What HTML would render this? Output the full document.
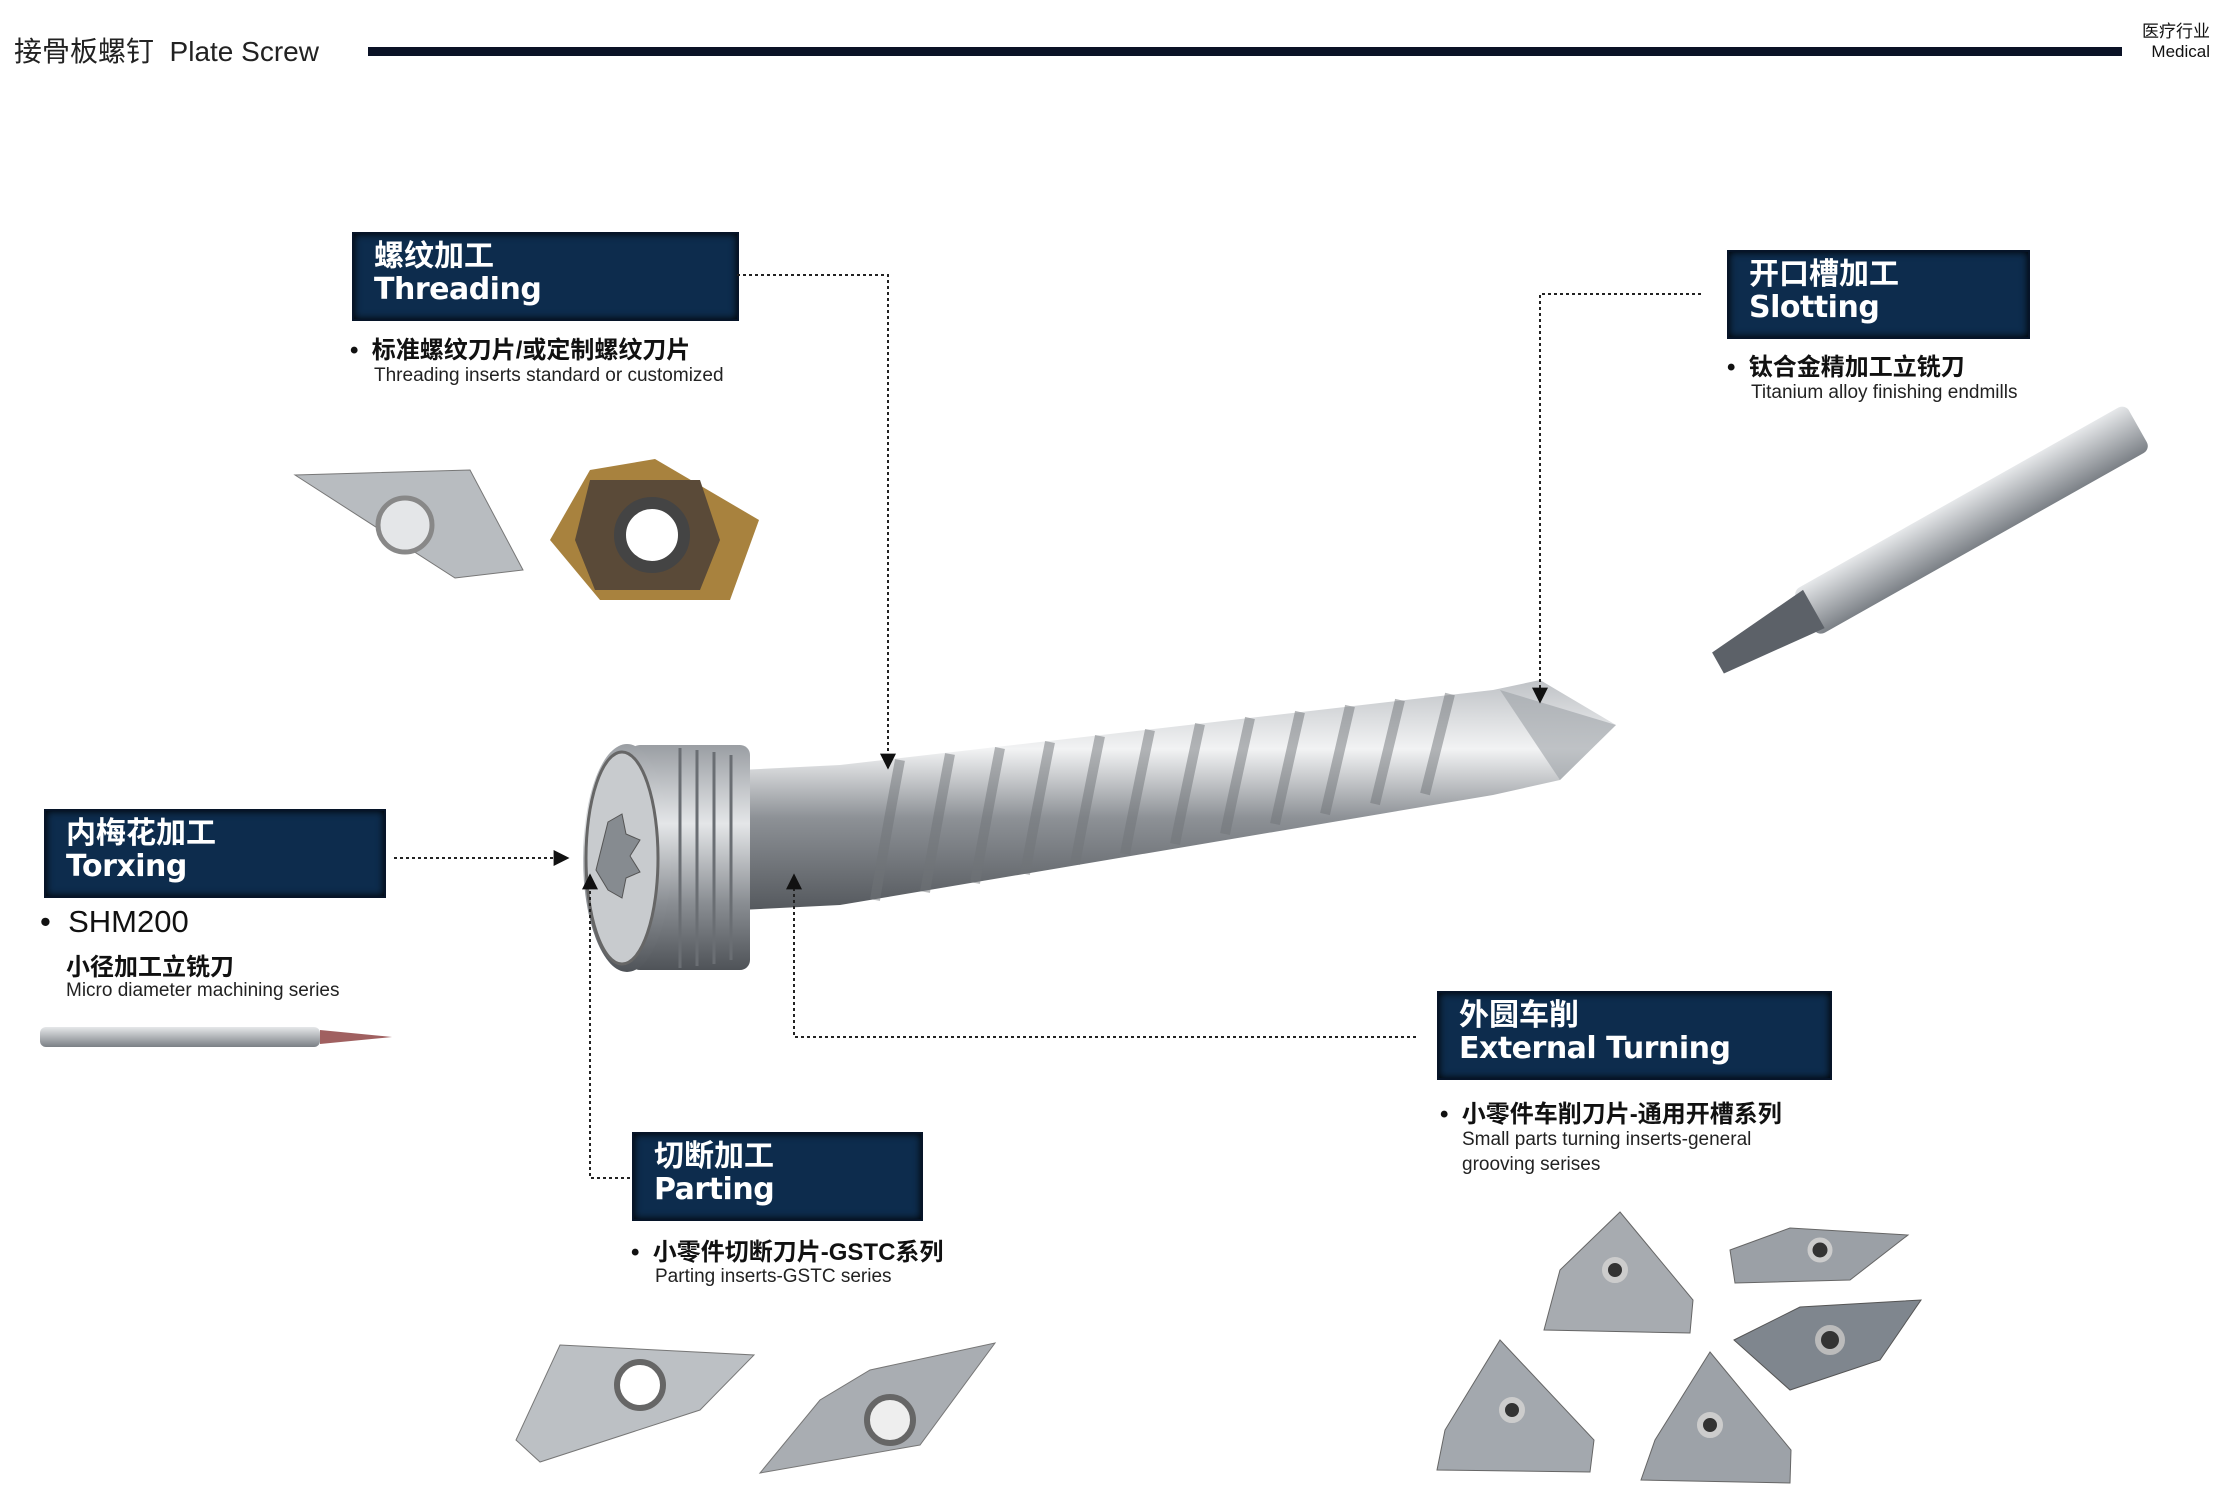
<!DOCTYPE html>
<html><head><meta charset="utf-8">
<style>
body{margin:0;width:2225px;height:1501px;background:#fff;position:relative;overflow:hidden;font-family:"Liberation Sans","Noto Sans CJK SC",sans-serif;color:#111}
.a{position:absolute;white-space:nowrap}
.box{position:absolute;background:#0d2c4d;box-shadow:inset 0 0 8px #000;border:2px solid #061428;color:#fff;font-weight:bold}
.box .c{position:absolute;left:20px;top:6px;font-size:30px;line-height:34px}
.box .e{position:absolute;left:20px;top:38px;font-size:30px;line-height:36px;font-family:"DejaVu Sans","Noto Sans CJK SC",sans-serif;font-weight:bold;letter-spacing:-0.5px}
.cn{font-size:24px;font-weight:bold}
.en{font-size:19px;color:#222}
</style></head><body>
<div class="a" style="left:14px;top:30px;font-size:28px;color:#222">接骨板螺钉&nbsp; Plate Screw</div>
<div class="a" style="left:368px;top:47px;width:1754px;height:9px;background:#0a1226"></div>
<div class="a" style="left:2142px;top:22px;font-size:17px;line-height:20px;text-align:right;width:68px">医疗行业<br>Medical</div>

<div class="box" style="left:352px;top:232px;width:383px;height:85px"><div class="c">螺纹加工</div><div class="e">Threading</div></div>
<div class="box" style="left:1727px;top:250px;width:299px;height:85px"><div class="c">开口槽加工</div><div class="e">Slotting</div></div>
<div class="box" style="left:44px;top:809px;width:338px;height:85px"><div class="c">内梅花加工</div><div class="e">Torxing</div></div>
<div class="box" style="left:1437px;top:991px;width:391px;height:85px"><div class="c">外圆车削</div><div class="e">External Turning</div></div>
<div class="box" style="left:632px;top:1132px;width:287px;height:85px"><div class="c">切断加工</div><div class="e">Parting</div></div>

<div class="a cn" style="left:350px;top:330px">•&nbsp; 标准螺纹刀片/或定制螺纹刀片</div>
<div class="a en" style="left:374px;top:365px">Threading inserts standard or customized</div>
<div class="a cn" style="left:1727px;top:347px">•&nbsp; 钛合金精加工立铣刀</div>
<div class="a en" style="left:1751px;top:382px">Titanium alloy finishing endmills</div>
<div class="a" style="left:40px;top:904px;font-size:31px">•&nbsp; SHM200</div>
<div class="a cn" style="left:66px;top:947px">小径加工立铣刀</div>
<div class="a en" style="left:66px;top:980px">Micro diameter machining series</div>
<div class="a cn" style="left:631px;top:1232px">•&nbsp; 小零件切断刀片-GSTC系列</div>
<div class="a en" style="left:655px;top:1266px">Parting inserts-GSTC series</div>
<div class="a cn" style="left:1440px;top:1094px">•&nbsp; 小零件车削刀片-通用开槽系列</div>
<div class="a en" style="left:1462px;top:1127px;line-height:25px">Small parts turning inserts-general<br>grooving serises</div>

<svg class="a" style="left:0;top:0" width="2225" height="1501">
<defs>
<linearGradient id="sg" x1="0" y1="0" x2="0" y2="1"><stop offset="0" stop-color="#bfc2c6"/><stop offset=".3" stop-color="#f2f3f4"/><stop offset=".6" stop-color="#8d9196"/><stop offset="1" stop-color="#55595e"/></linearGradient>
<linearGradient id="hg" x1="0" y1="0" x2="0" y2="1"><stop offset="0" stop-color="#9a9ea3"/><stop offset=".35" stop-color="#e4e6e8"/><stop offset=".7" stop-color="#8a8e93"/><stop offset="1" stop-color="#4f5358"/></linearGradient>
<linearGradient id="mg" x1="0" y1="0" x2="0" y2="1"><stop offset="0" stop-color="#e6e8ea"/><stop offset="1" stop-color="#7b8086"/></linearGradient>
<marker id="ar" viewBox="0 0 10 10" refX="9" refY="5" markerWidth="8" markerHeight="8" orient="auto"><path d="M0,0L10,5L0,10z" fill="#111"/></marker>
</defs>
<!-- screw -->
<polygon points="740,770 840,765 1493,690 1540,680 1616,725 1560,780 1493,795 840,905 740,910" fill="url(#sg)"/>
<g stroke="#6f7378" stroke-width="10" opacity=".5" fill="none">
<path d="M900,760 q-15,80 -25,140 M950,754 q-15,80 -25,138 M1000,748 q-15,78 -25,135 M1050,742 q-15,76 -25,132 M1100,736 q-15,74 -25,128 M1150,730 q-15,72 -25,124 M1200,724 q-15,70 -25,120 M1250,718 q-15,68 -25,116 M1300,712 q-15,66 -25,112 M1350,706 q-15,64 -25,108 M1400,700 q-15,62 -25,104 M1450,694 q-15,60 -25,100"/>
</g>
<path d="M1500,690 L1616,725 L1560,780 Z" fill="#9da1a6" opacity=".6"/>
<rect x="630" y="745" width="120" height="225" rx="10" fill="url(#hg)"/>
<g stroke="#6a6e73" stroke-width="3"><path d="M680,748V968 M697,750V966 M714,752V964 M731,755V960"/></g>
<ellipse cx="627" cy="858" rx="44" ry="114" fill="url(#hg)"/>
<ellipse cx="622" cy="858" rx="36" ry="106" fill="#c8cbce" stroke="#666" stroke-width="3"/>
<path d="M608,822 l14,-8 l4,20 l14,6 l-10,16 l10,16 l-14,6 l-4,20 l-14,-8 l-12,-20z" fill="#868b90" stroke="#555"/>
<g stroke="#222" stroke-width="2" stroke-dasharray="3,3" fill="none">
<path d="M737,275H888V768" marker-end="url(#ar)"/>
<path d="M1701,294H1540V702" marker-end="url(#ar)"/>
<path d="M394,858H568" marker-end="url(#ar)"/>
<path d="M630,1178H590V875" marker-end="url(#ar)"/>
<path d="M1416,1037H794V875" marker-end="url(#ar)"/>
</g>
<!-- threading inserts -->
<polygon points="295,475 470,470 523,570 455,578" fill="#b8bcc0" stroke="#777"/>
<circle cx="405" cy="525" r="27" fill="#e4e6e8" stroke="#888" stroke-width="5"/>
<polygon points="655,459 759,520 730,600 600,600 550,540 590,470" fill="#a8823e"/>
<polygon points="590,480 700,480 720,540 700,590 595,590 575,540" fill="#5a4a38"/>
<circle cx="652" cy="535" r="32" fill="#fff" stroke="#444" stroke-width="12"/>
<!-- endmill -->
<g transform="translate(1718,663) rotate(-29.4)">
<rect x="100" y="-26" width="382" height="52" rx="8" fill="url(#mg)"/>
<polygon points="0,-12 110,-22 110,22 0,12" fill="#5c6168"/>
</g>
<!-- micro drill -->
<rect x="40" y="1027" width="280" height="20" rx="6" fill="url(#mg)"/>
<polygon points="320,1030 392,1037 320,1044" fill="#a06060"/>
<!-- parting inserts -->
<polygon points="560,1345 754,1355 700,1410 540,1462 516,1440" fill="#bcc0c4" stroke="#777"/>
<circle cx="640" cy="1385" r="23" fill="#fff" stroke="#666" stroke-width="6"/>
<polygon points="870,1370 995,1343 920,1445 760,1473 820,1400" fill="#a9adb2" stroke="#777"/>
<circle cx="890" cy="1420" r="23" fill="#eee" stroke="#666" stroke-width="6"/>
<!-- turning inserts -->
<polygon points="1620,1212 1693,1300 1690,1333 1544,1330 1560,1270" fill="#a7abb0" stroke="#666"/>
<circle cx="1615" cy="1270" r="10" fill="#333" stroke="#ccc" stroke-width="6"/>
<polygon points="1730,1250 1790,1228 1908,1235 1850,1280 1735,1283" fill="#9ba0a6" stroke="#666"/>
<circle cx="1820" cy="1250" r="10" fill="#333" stroke="#ccc" stroke-width="5"/>
<polygon points="1500,1340 1594,1440 1590,1472 1437,1470 1445,1430" fill="#a3a8ae" stroke="#666"/>
<circle cx="1512" cy="1410" r="10" fill="#333" stroke="#ccc" stroke-width="6"/>
<polygon points="1710,1352 1791,1450 1790,1483 1641,1480 1655,1440" fill="#9da2a8" stroke="#666"/>
<circle cx="1710" cy="1425" r="10" fill="#333" stroke="#ccc" stroke-width="6"/>
<polygon points="1734,1340 1800,1307 1921,1300 1880,1360 1790,1390" fill="#7f868e" stroke="#555"/>
<circle cx="1830" cy="1340" r="12" fill="#333" stroke="#bbb" stroke-width="6"/>
</svg>
</body></html>
